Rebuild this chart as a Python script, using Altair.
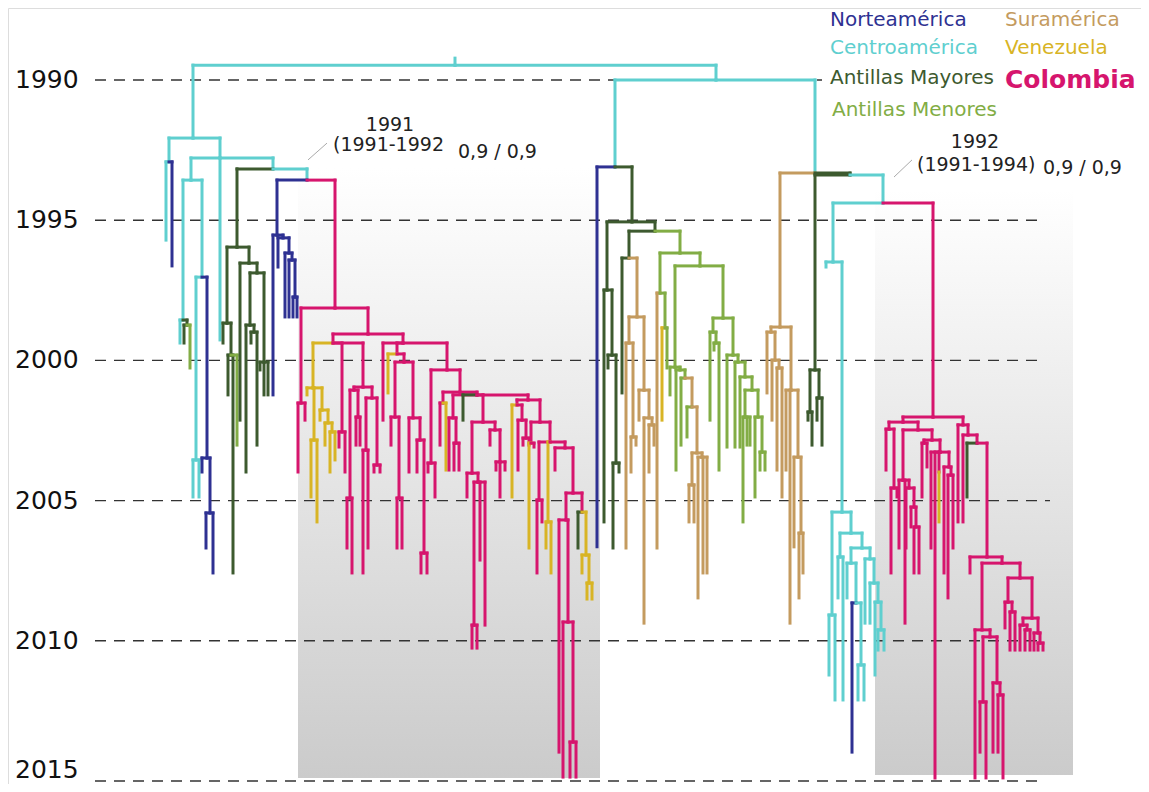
import altair as alt
import pandas as pd

# ---------------- regions ----------------
region_codes = ["N", "C", "AM", "Am", "S", "V", "Co"]
region_labels = ["Norteamérica", "Centroamérica", "Antillas Mayores", "Antillas Menores",
                 "Suramérica", "Venezuela", "Colombia"]
region_colors = ["#2e3192", "#5fcfcf", "#3d5a2f", "#82ad45", "#c49b5f", "#d8b425", "#d6156d"]

# ---------------- tree nodes: (id, parent, x position, year, region) ----------------
nodes_base = [
    ("s0", "", 455, 1989.22, "C"), ("r0", "s0", 455, 1989.47, "C"),
    ("L", "r0", 193, 1992.07, "C"),
    ("A", "L", 169, 1992.92, "C"), ("a1", "A", 166, 1995.71, "C"), ("a2", "A", 172, 1996.63, "N"),
    ("R1", "L", 220, 1992.78, "C"),
    ("C1", "R1", 191, 1993.57, "C"),
    ("C2", "C1", 183, 1998.56, "C"), ("c2a", "C2", 180, 1999.38, "C"),
    ("C3", "C2", 187, 1998.74, "AM"), ("c3a", "C3", 184, 1999.38, "AM"), ("c3b", "C3", 190, 2000.27, "Am"),
    ("C4", "C1", 202, 1997.03, "C"),
    ("C5", "C4", 196, 2003.55, "C"), ("c5a", "C5", 193, 2004.87, "C"), ("c5b", "C5", 199, 2004.87, "C"),
    ("B1", "C4", 207, 2003.48, "N"), ("b1a", "B1", 202, 2003.98, "N"),
    ("B2", "B1", 210, 2005.44, "N"), ("b2a", "B2", 206, 2006.69, "N"), ("b2b", "B2", 213, 2007.58, "N"),
    ("r1t", "R1", 220, 1999.27, "C"),
    ("R2", "R1", 273, 1993.17, "C"),
    ("G", "R2", 237, 1995.96, "AM"),
    ("G1", "G", 227, 1998.67, "AM"), ("g1a", "G1", 223, 1999.38, "AM"),
    ("G2", "G1", 231, 1999.81, "AM"), ("g2a", "G2", 228, 2001.23, "AM"),
    ("g2b", "G2", 233, 2007.58, "AM"), ("g2c", "G2", 237, 2003.02, "Am"),
    ("G3", "G", 249, 1996.53, "AM"), ("g3a", "G3", 240, 2002.13, "AM"),
    ("G4", "G3", 257, 1996.88, "AM"),
    ("G5", "G4", 250, 1998.74, "AM"), ("g5a", "G5", 246, 2003.98, "AM"),
    ("G6", "G5", 254, 1998.99, "AM"), ("g6a", "G6", 251, 1999.38, "AM"), ("g6b", "G6", 257, 2003.02, "AM"),
    ("G7", "G4", 264, 2000.06, "AM"), ("g7a", "G7", 260, 2000.34, "AM"),
    ("g7b", "G7", 264, 2001.23, "AM"), ("g7c", "G7", 268, 2001.23, "AM"),
    ("R3", "R2", 307, 1993.57, "C"),
    ("B", "R3", 277, 1995.53, "N"), ("ba", "B", 273, 2001.23, "N"),
    ("Bb", "B", 283, 1995.63, "N"), ("bb1", "Bb", 278, 1996.67, "N"),
    ("Bc", "Bb", 289, 1996.17, "N"), ("bc1", "Bc", 285, 1998.45, "N"),
    ("Bd", "Bc", 292, 1996.42, "N"), ("bd1", "Bd", 289, 1998.45, "N"),
    ("Be", "Bd", 295, 1997.74, "N"), ("be1", "Be", 293, 1998.45, "N"), ("be2", "Be", 297, 1998.45, "N"),
]

nodes_col_a = [
    ("P", "R3", 335, 1998.13, "Co"),
    ("Pa", "P", 301, 2001.52, "Co"), ("pa1", "Pa", 298, 2003.98, "Co"), ("pa2", "Pa", 305, 2002.13, "Co"),
    ("Pb", "P", 368, 1999.06, "Co"),
    ("Pc", "Pb", 333, 1999.38, "Co"),
    ("Y1", "Pc", 313, 2000.98, "V"), ("y1a", "Y1", 307, 2001.23, "V"),
    ("Y2", "Y1", 314, 2002.84, "V"), ("y2a", "Y2", 311, 2004.87, "V"), ("y2b", "Y2", 317, 2005.76, "V"),
    ("Y3", "Y1", 322, 2001.77, "V"), ("y3a", "Y3", 320, 2002.13, "V"),
    ("Y4", "Y3", 328, 2002.23, "V"), ("y4a", "Y4", 325, 2003.02, "V"),
    ("Y5", "Y4", 332, 2002.55, "V"), ("y5a", "Y5", 330, 2003.98, "V"), ("y5b", "Y5", 335, 2003.55, "V"),
    ("Pe", "Pc", 342, 2002.55, "Co"), ("pe1", "Pe", 339, 2003.09, "Co"), ("pe2", "Pe", 345, 2003.98, "Co"),
    ("Pd", "Pc", 363, 2000.95, "Co"),
    ("Pf", "Pd", 354, 2001.06, "Co"),
    ("Pg1", "Pf", 350, 2004.91, "Co"), ("pg1a", "Pg1", 347, 2006.69, "Co"), ("pg1b", "Pg1", 352, 2007.58, "Co"),
    ("Pg", "Pf", 358, 2002.02, "Co"), ("pg2a", "Pg", 356, 2003.02, "Co"), ("pg2b", "Pg", 360, 2003.02, "Co"),
    ("Ph", "Pd", 372, 2001.34, "Co"),
    ("Ph1", "Ph", 366, 2003.20, "Co"), ("ph1a", "Ph1", 363, 2007.58, "Co"), ("ph1b", "Ph1", 368, 2006.69, "Co"),
    ("Ph2", "Ph", 377, 2003.73, "Co"), ("ph2a", "Ph2", 374, 2003.98, "Co"), ("ph2b", "Ph2", 380, 2003.98, "Co"),
    ("Pb2", "Pb", 403, 1999.38, "Co"), ("pb2a", "Pb2", 383, 2002.13, "Co"),
    ("Pm", "Pb2", 397, 1999.77, "Co"), ("ym", "Pm", 388, 2001.16, "V"),
    ("Pn", "Pm", 404, 2000.06, "Co"),
    ("Po", "Pn", 395, 2002.02, "Co"), ("po1", "Po", 391, 2003.02, "Co"),
    ("Pr", "Po", 399, 2004.91, "Co"), ("pr1", "Pr", 397, 2006.69, "Co"), ("pr2", "Pr", 402, 2006.69, "Co"),
    ("Pq", "Pn", 413, 2002.05, "Co"), ("pq1", "Pq", 409, 2003.98, "Co"),
    ("Ps", "Pq", 420, 2002.84, "Co"), ("ps1", "Ps", 417, 2003.98, "Co"),
    ("Pt", "Ps", 424, 2006.87, "Co"), ("pt1", "Pt", 421, 2007.58, "Co"), ("pt2", "Pt", 427, 2007.58, "Co"),
    ("Pk", "Pb2", 447, 2000.34, "Co"),
    ("Pu", "Pk", 431, 2003.66, "Co"), ("pu1", "Pu", 428, 2003.98, "Co"), ("pu2", "Pu", 435, 2004.87, "Co"),
    ("Pk2", "Pk", 460, 2001.13, "Co"),
    ("Pl1", "Pk2", 443, 2001.52, "Co"), ("pl1a", "Pl1", 440, 2003.02, "Co"), ("pl1b", "Pl1", 446, 2003.91, "V"),
    ("Pl2", "Pk2", 477, 2001.23, "Co"),
    ("Pl3", "Pl2", 453, 2002.05, "Co"), ("pl3a", "Pl3", 449, 2003.91, "Co"),
    ("Pl3b", "Pl3", 456, 2002.95, "Co"), ("pl3b1", "Pl3b", 454, 2003.91, "Co"), ("pl3b2", "Pl3b", 459, 2003.91, "Co"),
    ("dgp", "Pl2", 463, 2002.13, "AM"),
    ("Pl4", "Pl2", 483, 2002.20, "Co"),
    ("Pv", "Pl4", 472, 2004.02, "Co"), ("pv1", "Pv", 467, 2004.87, "Co"),
    ("Pv2", "Pv", 478, 2004.34, "Co"),
    ("Pv3", "Pv2", 474, 2009.44, "Co"), ("pv3a", "Pv3", 472, 2010.26, "Co"), ("pv3b", "Pv3", 477, 2010.26, "Co"),
    ("pv2b", "Pv2", 480, 2007.12, "Co"), ("pv2c", "Pv2", 485, 2009.44, "Co"),
    ("Pl5", "Pl4", 495, 2002.48, "Co"), ("pl5a", "Pl5", 490, 2003.02, "Co"),
    ("Pl5b", "Pl5", 500, 2003.62, "Co"), ("pl5b1", "Pl5b", 496, 2003.91, "Co"),
    ("pl5b2", "Pl5b", 500, 2004.87, "Co"), ("pl5b3", "Pl5b", 505, 2003.91, "Co"),
    ("Pl6p", "Pl2", 528, 2001.41, "Co"),
    ("Pl6", "Pl6p", 517, 2001.59, "Co"), ("yl6", "Pl6", 512, 2004.87, "V"),
    ("Pl6b", "Pl6", 522, 2002.13, "Co"), ("pl6b1", "Pl6b", 518, 2003.91, "Co"),
    ("Pl6c", "Pl6b", 526, 2002.77, "Co"), ("pl6c1", "Pl6c", 523, 2003.02, "Co"), ("pl6c2", "Pl6c", 529, 2003.02, "Co"),
    ("Pl7", "Pl6p", 540, 2002.20, "Co"),
    ("Pl8", "Pl7", 531, 2002.95, "Co"), ("yl8", "Pl8", 529, 2006.69, "V"), ("pl8b", "Pl8", 534, 2003.09, "Co"),
    ("Pl9", "Pl7", 550, 2002.91, "Co"),
    ("Pl9a", "Pl9", 539, 2004.98, "Co"), ("pl9a1", "Pl9a", 537, 2007.58, "Co"), ("pl9a2", "Pl9a", 542, 2005.76, "Co"),
    ("Yl9", "Pl9", 548, 2005.76, "V"), ("yl9a", "Yl9", 546, 2006.69, "V"), ("yl9b", "Yl9", 551, 2007.58, "V"),
    ("Pl10", "Pl9", 565, 2003.12, "Co"), ("pl10a", "Pl10", 555, 2003.91, "Co"),
    ("Pl11", "Pl10", 573, 2004.73, "Co"),
    ("Pa1", "Pl11", 566, 2005.69, "Co"), ("pa1a", "Pa1", 559, 2013.97, "Co"),
    ("Pa3", "Pa1", 568, 2009.33, "Co"), ("pa3a", "Pa3", 563, 2014.86, "Co"),
    ("Pa4", "Pa3", 573, 2013.61, "Co"), ("pa4a", "Pa4", 570, 2014.86, "Co"), ("pa4b", "Pa4", 576, 2014.86, "Co"),
    ("Pa2", "Pl11", 582, 2005.41, "Co"), ("dga2", "Pa2", 578, 2006.69, "AM"),
    ("Ya", "Pa2", 586, 2006.94, "V"), ("ya1", "Ya", 582, 2007.58, "V"),
    ("Yb", "Ya", 589, 2007.94, "V"), ("yb1", "Yb", 587, 2008.51, "V"), ("yb2", "Yb", 592, 2008.51, "V"),
]

nodes_right = [
    ("Rt", "r0", 716, 1990.00, "C"),
    ("K", "Rt", 615, 1993.10, "C"), ("kb", "K", 597, 2006.65, "N"),
    ("K2", "K", 632, 1995.06, "AM"),
    ("Gb1", "K2", 607, 1997.49, "AM"), ("gb1a", "Gb1", 604, 2005.76, "AM"),
    ("Gb2", "Gb1", 612, 1999.81, "AM"), ("gb2a", "Gb2", 608, 2000.27, "AM"),
    ("Gb3", "Gb2", 616, 2003.66, "AM"), ("gb3a", "Gb3", 613, 2006.69, "AM"), ("gb3b", "Gb3", 619, 2003.98, "AM"),
    ("K3", "K2", 655, 1995.39, "AM"),
    ("K4", "K3", 629, 1996.35, "AM"), ("gk4", "K4", 622, 2001.16, "AM"),
    ("T0", "K4", 637, 1998.45, "S"),
    ("T0a", "T0", 629, 1999.38, "S"), ("t0a1", "T0a", 626, 2006.69, "S"),
    ("T0b", "T0a", 633, 2002.73, "S"), ("t0b1", "T0b", 631, 2003.98, "S"), ("t0b2", "T0b", 636, 2003.02, "S"),
    ("T1", "T0", 644, 2001.06, "S"), ("t1a", "T1", 639, 2002.13, "S"),
    ("T2", "T1", 649, 2002.05, "S"), ("t2a", "T2", 644, 2009.37, "S"),
    ("T3", "T2", 652, 2002.30, "S"), ("t3a", "T3", 649, 2003.98, "S"), ("t3b", "T3", 654, 2003.02, "S"),
    ("K5", "K3", 680, 1996.17, "Am"),
    ("K6", "K5", 660, 1997.60, "Am"), ("tk6", "K6", 657, 2006.69, "S"),
    ("K7", "K6", 665, 1998.84, "Am"), ("yk7", "K7", 662, 2002.13, "V"), ("lk7", "K7", 667, 2000.27, "Am"),
    ("K8", "K5", 700, 1996.63, "Am"),
    ("L1", "K8", 675, 2000.24, "Am"), ("l1a", "L1", 670, 2001.23, "Am"),
    ("L2", "L1", 680, 2000.34, "Am"), ("l2a", "L2", 676, 2003.91, "Am"),
    ("L3", "L2", 685, 2000.63, "Am"), ("l3a", "L3", 681, 2003.02, "Am"),
    ("T4", "L3", 692, 2001.66, "S"), ("lt4", "T4", 687, 2002.73, "Am"),
    ("T6", "T4", 697, 2003.30, "S"),
    ("T7", "T6", 692, 2004.44, "S"), ("t7a", "T7", 689, 2005.76, "S"), ("t7b", "T7", 694, 2005.76, "S"),
    ("T8", "T6", 702, 2003.45, "S"), ("t8a", "T8", 698, 2008.47, "S"),
    ("t8b", "T8", 703, 2007.58, "S"), ("t8c", "T8", 707, 2007.58, "S"),
    ("K9", "K8", 723, 1998.49, "Am"),
    ("K10", "K9", 713, 1998.99, "Am"), ("k10a", "K10", 710, 2002.13, "Am"),
    ("K11", "K10", 716, 1999.38, "Am"), ("k11a", "K11", 714, 1999.63, "Am"), ("k11b", "K11", 719, 2003.91, "Am"),
    ("M1", "K9", 733, 1999.81, "Am"), ("m1a", "M1", 727, 2003.09, "Am"),
    ("M2", "M1", 738, 2000.06, "Am"), ("m2a", "M2", 735, 2003.09, "Am"),
    ("M3", "M2", 745, 2000.59, "Am"), ("m3a", "M3", 740, 2003.09, "Am"),
    ("M4", "M3", 752, 2001.06, "Am"),
    ("M5", "M4", 745, 2002.02, "Am"), ("m5a", "M5", 743, 2005.76, "Am"),
    ("m5b", "M5", 747, 2003.02, "Am"), ("m5c", "M5", 750, 2003.02, "Am"),
    ("M6", "M4", 758, 2002.02, "Am"), ("m6a", "M6", 755, 2004.87, "Am"),
    ("M7", "M6", 762, 2003.27, "Am"), ("m7a", "M7", 760, 2003.91, "Am"), ("m7b", "M7", 765, 2003.91, "Am"),
    ("Rt2", "Rt", 815, 1993.32, "C"),
    ("T", "Rt2", 780, 1998.81, "S"),
    ("TL", "T", 771, 1998.99, "S"), ("tl1", "TL", 767, 2001.16, "S"),
    ("TL2", "TL", 775, 1999.99, "S"), ("tl2a", "TL2", 772, 2002.13, "S"),
    ("TL3", "TL2", 779, 2000.27, "S"), ("tl3a", "TL3", 777, 2003.91, "S"), ("tl3b", "TL3", 782, 2004.87, "S"),
    ("TR", "T", 791, 2001.06, "S"), ("tr1", "TR", 786, 2003.91, "S"), ("tr2", "TR", 790, 2009.37, "S"),
    ("TR2", "TR", 798, 2003.45, "S"), ("tr2a", "TR2", 794, 2006.65, "S"),
    ("TR3", "TR2", 801, 2006.16, "S"), ("tr3a", "TR3", 799, 2008.47, "S"), ("tr3b", "TR3", 803, 2007.58, "S"),
    ("X", "Rt2", 850, 1993.39, "AM"),
    ("D", "X", 815, 2000.34, "AM"),
    ("D1", "D", 810, 2001.84, "AM"), ("d1a", "D1", 808, 2002.13, "AM"), ("d1b", "D1", 812, 2003.02, "AM"),
    ("D2", "D", 819, 2001.34, "AM"), ("d2a", "D2", 817, 2002.13, "AM"), ("d2b", "D2", 822, 2003.02, "AM"),
    ("Cc", "X", 883, 1994.39, "C"),
    ("Cc1", "Cc", 833, 1996.49, "C"), ("cc1a", "Cc1", 826, 1996.67, "C"),
    ("Cc2", "Cc1", 842, 2005.41, "C"),
    ("Cc3", "Cc2", 832, 2009.08, "C"), ("cc3a", "Cc3", 829, 2011.22, "C"), ("cc3b", "Cc3", 835, 2012.11, "C"),
    ("Cc4", "Cc2", 851, 2006.16, "C"),
    ("Cc5", "Cc4", 840, 2007.01, "C"), ("cc5a", "Cc5", 838, 2008.47, "C"), ("cc5b", "Cc5", 843, 2012.11, "C"),
    ("Cc6", "Cc4", 862, 2006.69, "C"),
    ("Cc7", "Cc6", 851, 2007.23, "C"), ("cc7a", "Cc7", 847, 2008.47, "C"),
    ("Cc8", "Cc7", 856, 2008.65, "C"), ("cc8a", "Cc8", 852, 2013.97, "N"),
    ("Cc9", "Cc8", 861, 2010.86, "C"), ("cc9a", "Cc9", 858, 2012.11, "C"), ("cc9b", "Cc9", 864, 2012.11, "C"),
    ("Cc10", "Cc6", 870, 2007.08, "C"), ("cc10a", "Cc10", 865, 2009.37, "C"),
    ("Cc11", "Cc10", 874, 2007.94, "C"), ("cc11a", "Cc11", 870, 2009.37, "C"),
    ("Cc12", "Cc11", 878, 2008.62, "C"), ("cc12a", "Cc12", 875, 2011.22, "C"),
    ("Cc13", "Cc12", 881, 2009.61, "C"), ("cc13a", "Cc13", 878, 2010.33, "C"), ("cc13b", "Cc13", 884, 2010.33, "C"),
]

nodes_col_b = [
    ("Q", "Cc", 933, 2002.02, "Co"),
    ("Q1", "Q", 903, 2002.20, "Co"),
    ("Q1a", "Q1", 889, 2002.45, "Co"), ("q1a1", "Q1a", 886, 2003.91, "Co"),
    ("Q1a2", "Q1a", 894, 2004.55, "Co"), ("q1a2a", "Q1a2", 891, 2007.58, "Co"), ("q1a2b", "Q1a2", 897, 2004.87, "Co"),
    ("Q1b", "Q1", 918, 2002.48, "Co"),
    ("Q1c", "Q1b", 903, 2004.27, "Co"), ("q1c1", "Q1c", 899, 2006.69, "Co"), ("q1c2", "Q1c", 905, 2009.37, "Co"),
    ("Q1c3", "Q1c", 909, 2004.55, "Co"), ("q1c3a", "Q1c3", 906, 2006.69, "Co"),
    ("Q1c4", "Q1c3", 914, 2005.23, "Co"), ("q1c4a", "Q1c4", 911, 2005.94, "Co"),
    ("Q1c5", "Q1c4", 916, 2005.94, "Co"), ("q1c5a", "Q1c5", 914, 2007.58, "Co"), ("q1c5b", "Q1c5", 919, 2007.58, "Co"),
    ("Q1d", "Q1b", 932, 2002.84, "Co"),
    ("Q1e", "Q1d", 924, 2002.95, "Co"), ("q1e1", "Q1e", 922, 2004.87, "Co"), ("q1e2", "Q1e", 927, 2003.80, "Co"),
    ("Q1f", "Q1d", 940, 2003.27, "Co"), ("q1f1", "Q1f", 931, 2006.69, "Co"), ("q1f2", "Q1f", 935, 2014.89, "Co"),
    ("Q1y", "Q1f", 939, 2003.98, "Co"), ("q1y1", "Q1y", 939, 2005.76, "V"),
    ("Q1g", "Q1f", 949, 2003.80, "Co"), ("q1g1", "Q1g", 944, 2007.58, "Co"),
    ("Q1h", "Q1g", 951, 2004.09, "Co"), ("q1h1", "Q1h", 948, 2008.47, "Co"), ("q1h2", "Q1h", 953, 2006.69, "Co"),
    ("Q2", "Q", 963, 2002.30, "Co"), ("q2a", "Q2", 958, 2005.76, "Co"),
    ("Q2a", "Q2", 968, 2002.66, "Co"), ("q2a1", "Q2a", 963, 2005.76, "Co"),
    ("Q2b", "Q2a", 977, 2002.95, "Co"), ("q2dg", "Q2b", 967, 2004.87, "AM"),
    ("Q3", "Q2b", 987, 2007.01, "Co"), ("q3a", "Q3", 970, 2007.58, "Co"),
    ("Q3b", "Q3", 1002, 2007.23, "Co"),
    ("Q4", "Q3b", 982, 2009.61, "Co"), ("q4a", "Q4", 975, 2014.89, "Co"),
    ("Q5", "Q4", 990, 2009.86, "Co"),
    ("Q6", "Q5", 983, 2012.18, "Co"), ("q6a", "Q6", 980, 2013.97, "Co"), ("q6b", "Q6", 986, 2014.89, "Co"),
    ("Q7", "Q5", 997, 2011.50, "Co"), ("q7a", "Q7", 993, 2013.97, "Co"),
    ("Q7b", "Q7", 1000, 2011.93, "Co"), ("q7b1", "Q7b", 998, 2013.97, "Co"), ("q7b2", "Q7b", 1003, 2014.89, "Co"),
    ("Q8", "Q3b", 1020, 2007.76, "Co"),
    ("Q8a", "Q8", 1008, 2008.62, "Co"), ("q8a1", "Q8a", 1005, 2009.54, "Co"),
    ("Q8b", "Q8a", 1012, 2008.97, "Co"), ("q8b1", "Q8b", 1010, 2010.33, "Co"), ("q8b2", "Q8b", 1015, 2010.33, "Co"),
    ("Q9", "Q8", 1032, 2009.19, "Co"),
    ("Q9a", "Q9", 1023, 2009.44, "Co"), ("q9a1", "Q9a", 1020, 2010.33, "Co"),
    ("Q9b", "Q9a", 1027, 2009.61, "Co"), ("q9b1", "Q9b", 1025, 2010.33, "Co"), ("q9b2", "Q9b", 1030, 2010.33, "Co"),
    ("Q10", "Q9", 1038, 2009.72, "Co"), ("q10a", "Q10", 1034, 2010.33, "Co"),
    ("Q10b", "Q10", 1040, 2010.08, "Co"), ("q10b1", "Q10b", 1038, 2010.33, "Co"), ("q10b2", "Q10b", 1043, 2010.33, "Co"),
]

# ---------------- reference lines, shading, labels ----------------
grid_years = [1990, 1995, 2000, 2005, 2010, 2015]
grid_x_start = [95, 95, 95, 95, 95, 95]
grid_x_end = [822, 1040, 1040, 1050, 1040, 1040]

shade_x = [298, 875]
shade_x2 = [600, 1073]
shade_top = [1993.14, 1993.92]
shade_bottom = [2014.89, 2014.79]

legend_x = [830, 830, 830, 832, 1005, 1005]
legend_year = [1987.86, 1988.86, 1989.93, 1991.07, 1987.86, 1988.86]
legend_text = region_labels[:6]
legend_color = region_colors[:6]
colombia_label = "Colombia"
colombia_x = 1005
colombia_year = 1990.0

ann_text = ["1991", "(1991-1992", "0,9 / 0,9", "1992", "(1991-1994)", "0,9 / 0,9"]
ann_x = [390, 333, 458, 975, 917, 1043]
ann_year = [1991.60, 1992.32, 1992.57, 1992.21, 1993.03, 1993.14]
ann_align = ["center", "left", "left", "center", "left", "left"]

leader_x = [308, 894]
leader_x2 = [327, 912]
leader_y = [1992.85, 1993.46]
leader_y2 = [1992.25, 1992.85]

# ---------------- build segments ----------------
all_nodes = nodes_base + nodes_col_a + nodes_right + nodes_col_b
lookup = {n[0]: n for n in all_nodes}
segs = []
for nid, par, x, yr, reg in all_nodes:
    if not par:
        continue
    p = lookup[par]
    segs.append(dict(x=x, x2=x, y=p[3], y2=yr, region=reg))
    if p[2] != x:
        segs.append(dict(x=p[2], x2=x, y=p[3], y2=p[3], region=reg))
seg_df = pd.DataFrame(segs)

W, H = 1133, 776
xs = alt.Scale(domain=[8, 8 + W])
ys = alt.Scale(domain=[1987.432, 2015.107], reverse=True)
X = lambda f: alt.X(f, scale=xs, axis=None)
Y = lambda f: alt.Y(f, scale=ys, axis=None)

shade_df = pd.DataFrame(dict(x=shade_x, x2=shade_x2, y=shade_top, y2=shade_bottom))
shade = alt.Chart(shade_df).mark_rect(
    fill=alt.Gradient(gradient="linear", x1=0, x2=0, y1=0, y2=1,
                      stops=[alt.GradientStop(offset=0, color="#ffffff"),
                             alt.GradientStop(offset=1, color="#cbcbcb")])
).encode(x=X("x:Q"), x2="x2", y=Y("y:Q"), y2="y2")

grid_df = pd.DataFrame(dict(year=grid_years, xs=grid_x_start, xe=grid_x_end))
grid = alt.Chart(grid_df).mark_rule(color="#333333", strokeWidth=1.4, strokeDash=[11, 8]).encode(
    x=X("xs:Q"), x2="xe", y=Y("year:Q"))
lab_df = pd.DataFrame(dict(year=grid_years[:-1]))
grid_lab = alt.Chart(lab_df).mark_text(align="left", baseline="middle", fontSize=25,
                                       font="DejaVu Sans", color="#111111", dx=7).encode(
    x=alt.value(0), y=Y("year:Q"), text=alt.Text("year:Q", format="d"))
# the bottom label sits just inside the lower edge so it is not cut off
last_df = pd.DataFrame(dict(year=grid_years[-1:]))
last_lab = alt.Chart(last_df).mark_text(align="left", baseline="bottom", fontSize=25,
                                        font="DejaVu Sans", color="#111111", dx=7, dy=-1).encode(
    x=alt.value(0), y=alt.value(H), text=alt.Text("year:Q", format="d"))

tree = alt.Chart(seg_df).mark_rule(strokeWidth=3, strokeCap="square").encode(
    x=X("x:Q"), x2="x2", y=Y("y:Q"), y2="y2",
    color=alt.Color("region:N", scale=alt.Scale(domain=region_codes, range=region_colors), legend=None))

leg_df = pd.DataFrame(dict(x=legend_x, y=legend_year, t=legend_text, c=legend_color))
leg = alt.Chart(leg_df).mark_text(align="left", baseline="middle", fontSize=20, font="DejaVu Sans").encode(
    x=X("x:Q"), y=Y("y:Q"), text="t:N", color=alt.Color("c:N", scale=None))
col_df = pd.DataFrame(dict(x=[colombia_x], y=[colombia_year], t=[colombia_label]))
col_lab = alt.Chart(col_df).mark_text(align="left", baseline="middle", fontSize=25, fontWeight="bold",
                                      font="DejaVu Sans", color=region_colors[6]).encode(
    x=X("x:Q"), y=Y("y:Q"), text="t:N")

ann_layers = []
for al in ["left", "center"]:
    sub = pd.DataFrame(dict(x=ann_x, y=ann_year, t=ann_text, a=ann_align))
    sub = sub[sub.a == al]
    ann_layers.append(alt.Chart(sub).mark_text(align=al, baseline="middle", fontSize=19,
                                               font="DejaVu Sans", color="#222222").encode(
        x=X("x:Q"), y=Y("y:Q"), text="t:N"))

lead_df = pd.DataFrame(dict(x=leader_x, x2=leader_x2, y=leader_y, y2=leader_y2))
lead = alt.Chart(lead_df).mark_rule(color="#aaaaaa", strokeWidth=1).encode(
    x=X("x:Q"), x2="x2", y=Y("y:Q"), y2="y2")

chart = alt.layer(shade, grid, grid_lab, last_lab, lead, tree, leg, col_lab, *ann_layers).properties(
    width=W, height=H, padding=0,
    autosize=alt.AutoSizeParams(type="none"),
).configure_view(stroke=None).configure(background="white")

chart.save("out.html", embed_options={"renderer": "svg", "actions": False})
